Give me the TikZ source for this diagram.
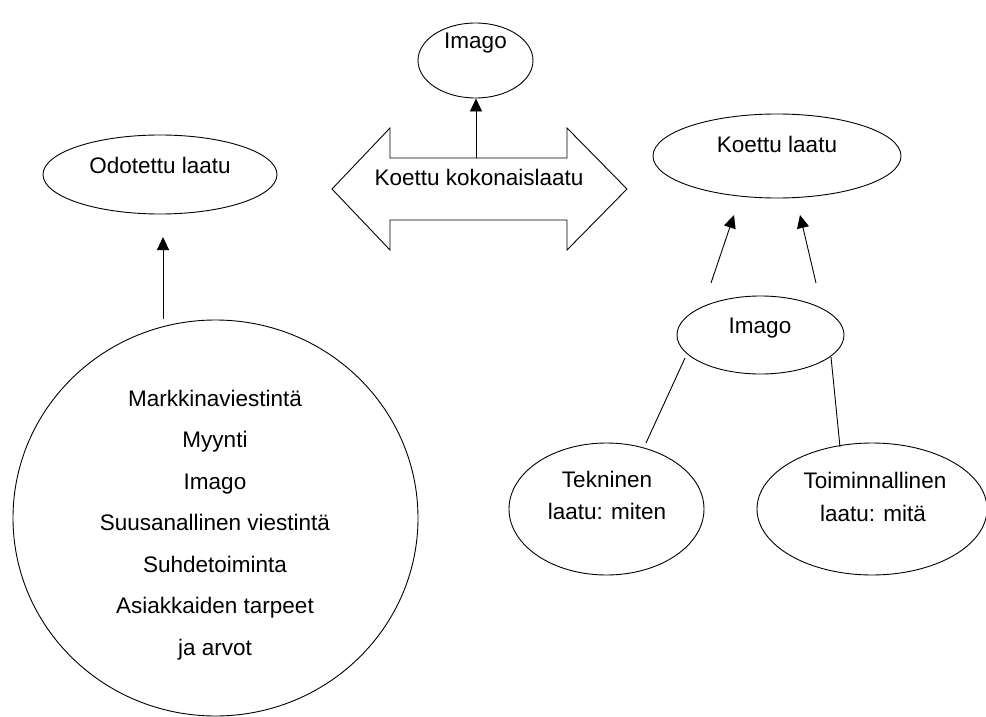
\documentclass[tikz,border=0pt]{standalone}
\usepackage{fontspec}
\setmainfont{Liberation Sans}
\usetikzlibrary{shapes.geometric,arrows.meta}
\begin{document}
\begin{tikzpicture}[x=1pt,y=-1pt,
  oval/.style={draw, ellipse, line width=0.9pt, inner sep=0pt},
  txt/.style={font=\fontsize{22.5}{27}\selectfont, anchor=base, inner sep=0pt},
  arr/.style={line width=0.9pt, -{Triangle[length=13pt,width=12pt]}},
  ln/.style={line width=0.9pt}]
\useasboundingbox (0,0) rectangle (986,717);

% top Imago
\node[oval, minimum width=115pt, minimum height=75pt] (imgtop) at (475.5,60.5) {};
\node[txt] (imgtoptxt) at (475.5,49) {Imago};

% double arrow
\draw[ln] (332,189) -- (390,128) -- (390,158) -- (567,158) -- (567,128) -- (627,189)
  -- (567,250) -- (567,220) -- (390,220) -- (390,250) -- cycle;
\node[txt] (kok) at (479,185) {Koettu kokonaislaatu};
\coordinate (koktop) at (476,158);
\draw[arr] (koktop) -- (koktop |- imgtop.south);

% Odotettu laatu
\node[oval, minimum width=234pt, minimum height=79pt] (odo) at (160,174.5) {};
\node[txt] (odotxt) at (160,173) {Odotettu laatu};

% big circle
\node[oval, minimum width=405pt, minimum height=396pt] (big) at (215.5,518) {};
\node[txt] (l1) at (215,406) {Markkinaviestintä};
\node[txt] (l2) at (215,447.5) {Myynti};
\node[txt] (l3) at (215,489) {Imago};
\node[txt] (l4) at (215,530.5) {Suusanallinen viestintä};
\node[txt] (l5) at (215,572) {Suhdetoiminta};
\node[txt] (l6) at (215,613.5) {Asiakkaiden tarpeet};
\node[txt] (l7) at (215,655) {ja arvot};
\coordinate (bigtop) at (163,319);
\coordinate (odoend) at (163,237);
\draw[arr] (bigtop) -- (odoend);

% Koettu laatu
\node[oval, minimum width=248pt, minimum height=84pt] (kl) at (777,156) {};
\node[txt] (kltxt) at (777,152) {Koettu laatu};
\coordinate (a1s) at (711,283);
\coordinate (a1e) at (734,215);
\coordinate (a2s) at (816,283);
\coordinate (a2e) at (800,215);
\draw[arr] (a1s) -- (a1e);
\draw[arr] (a2s) -- (a2e);

% right Imago
\node[oval, minimum width=167pt, minimum height=78pt] (img2) at (760.5,335) {};
\node[txt] (img2txt) at (760,333) {Imago};

% Tekninen
\node[oval, minimum width=195pt, minimum height=132pt] (tek) at (606.5,509) {};
\node[txt] (tek1) at (607,487) {Tekninen};
\node[txt] (tek2) at (607,519) {laatu: miten};

% Toiminnallinen
\node[oval, minimum width=230pt, minimum height=132pt] (toi) at (872,509) {};
\node[txt] (toi1) at (875,488) {Toiminnallinen};
\node[txt] (toi2) at (873,521) {laatu: mitä};

\coordinate (c1) at (685,358);
\coordinate (c2) at (646,443);
\coordinate (c3) at (831,357);
\coordinate (c4) at (840,447);
\draw[ln] (c1) -- (c2);
\draw[ln] (c3) -- (c4);
\end{tikzpicture}
\end{document}
